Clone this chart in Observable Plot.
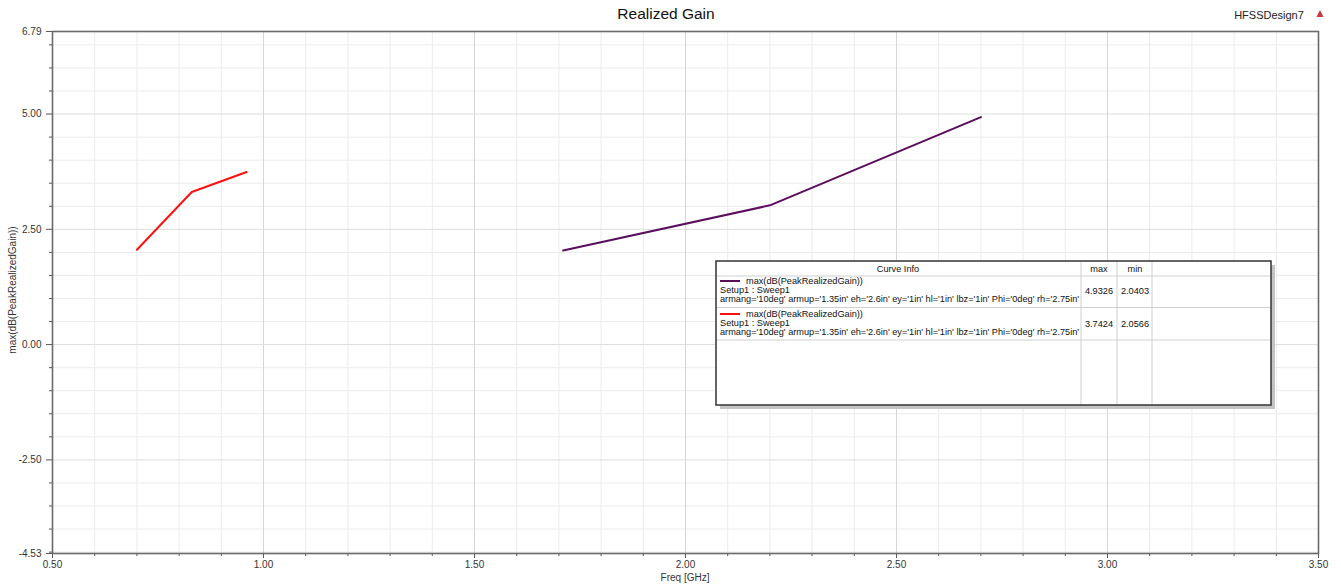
<!DOCTYPE html>
<html>
<head>
<meta charset="utf-8">
<script src="https://cdn.jsdelivr.net/npm/d3@7"></script>
<script src="https://cdn.jsdelivr.net/npm/@observablehq/plot@0.6"></script>
<style>
  html, body { margin: 0; padding: 0; background: #fff; }
  #wrap { position: relative; width: 1341px; height: 585px; overflow: hidden; font-family: Arial, "Liberation Sans", sans-serif; }
  .lbl { position: absolute; white-space: nowrap; color: #222; }
</style>
</head>
<body>
<div id="wrap"></div>
<script>
// ---- data ----
const freqRed = [0.70, 0.83, 0.96];
const gainRed = [2.0566, 3.31, 3.7424];
const freqPurple = [1.71, 2.20, 2.70];
const gainPurple = [2.0403, 3.02, 4.9326];

const xTickLabels = [0.5, 1.0, 1.5, 2.0, 2.5, 3.0, 3.5];
const yTickLabels = [6.79, 5.0, 2.5, 0.0, -2.5, -4.53];

const legendNames = ["max(dB(PeakRealizedGain))", "max(dB(PeakRealizedGain))"];
const legendSetup = ["Setup1 : Sweep1", "Setup1 : Sweep1"];
const legendVars = [
  "armang='10deg' armup='1.35in' eh='2.6in' ey='1in' hl='1in' lbz='1in' Phi='0deg' rh='2.75in'",
  "armang='10deg' armup='1.35in' eh='2.6in' ey='1in' hl='1in' lbz='1in' Phi='0deg' rh='2.75in'"
];
const legendMax = ["4.9326", "3.7424"];
const legendMin = ["2.0403", "2.0566"];
const seriesColors = ["#5a0e5e", "#ff1010"];

// ---- tables ----
const red = freqRed.map((f, i) => ({f, g: gainRed[i]}));
const purple = freqPurple.map((f, i) => ({f, g: gainPurple[i]}));

const xMinor = d3.range(6, 35).map(d => d / 10).filter(d => Math.abs(d * 2 - Math.round(d * 2)) > 1e-6);
const xMajorGrid = [1.0, 1.5, 2.0, 2.5, 3.0];
const yMinor = d3.range(-9, 14).map(d => d / 2).filter(d => Math.abs(d / 2.5 - Math.round(d / 2.5)) > 1e-6);
const yMajorGrid = [5.0, 2.5, 0.0, -2.5];

const chart = Plot.plot({
  width: 1341,
  height: 585,
  marginLeft: 52,
  marginRight: 23,
  marginTop: 31,
  marginBottom: 32,
  style: {fontFamily: "Arial, 'Liberation Sans', sans-serif", fontSize: "10px", color: "#333", background: "#fff"},
  x: {domain: [0.5, 3.5]},
  y: {domain: [-4.53, 6.79]},
  marks: [
    Plot.ruleX(xMinor, {stroke: "#ebebeb", strokeWidth: 1}),
    Plot.ruleY(yMinor, {stroke: "#ebebeb", strokeWidth: 1}),
    Plot.ruleX(xMajorGrid, {stroke: "#d6d6d6", strokeWidth: 1}),
    Plot.ruleY(yMajorGrid, {stroke: "#dddddd", strokeWidth: 1}),
    Plot.axisY(yMinor, {tickSize: 3, tickFormat: () => "", stroke: "#555", label: null}),
    Plot.axisY(yTickLabels, {tickSize: 6, tickPadding: 5, tickFormat: d => d.toFixed(2), stroke: "#555", fill: "#333", label: null}),
    Plot.axisX(xMinor, {tickSize: 3, tickFormat: () => "", stroke: "#555", label: null}),
    Plot.axisX(xTickLabels, {tickSize: 5, tickPadding: 2, tickFormat: d => d.toFixed(2), stroke: "#555", fill: "#333", label: null}),
    Plot.frame({stroke: "#6a6a6a", strokeWidth: 1.6}),
    Plot.line(purple, {x: "f", y: "g", stroke: seriesColors[0], strokeWidth: 2}),
    Plot.line(red, {x: "f", y: "g", stroke: seriesColors[1], strokeWidth: 2})
  ]
});

const wrap = document.getElementById("wrap");
chart.style.position = "absolute";
chart.style.left = "0px";
chart.style.top = "0px";
wrap.appendChild(chart);

function addLabel(text, x, y, opts = {}) {
  const d = document.createElement("div");
  d.className = "lbl";
  d.textContent = text;
  d.style.left = x + "px";
  d.style.top = y + "px";
  d.style.fontSize = (opts.size || 10) + "px";
  if (opts.color) d.style.color = opts.color;
  d.style.transform = opts.transform || "translate(-50%, -50%)";
  wrap.appendChild(d);
  return d;
}
addLabel("Realized Gain", 666, 14, {size: 15.5, color: "#111"});
addLabel("HFSSDesign7", 1269, 15, {size: 11, color: "#222"});
addLabel("Freq [GHz]", 685, 577, {size: 10, color: "#333"});
addLabel("max(dB(PeakRealizedGain))", 12, 290, {size: 10, color: "#333", transform: "translate(-50%, -50%) rotate(-90deg)"});

// small red triangle icon
const ov = d3.select(wrap).append("svg")
  .attr("width", 1341).attr("height", 585)
  .style("position", "absolute").style("left", "0px").style("top", "0px")
  .style("font-family", "Arial, 'Liberation Sans', sans-serif");
ov.append("path").attr("d", "M1320,10 L1323.5,17 L1316.5,17 Z").attr("fill", "#c83a3a");

// legend
const L = {x: 716, y: 261, w: 555, h: 144};
ov.append("rect").attr("x", L.x + 4).attr("y", L.y + 4).attr("width", L.w).attr("height", L.h).attr("fill", "#c4c4c4");
ov.append("rect").attr("x", L.x).attr("y", L.y).attr("width", L.w).attr("height", L.h).attr("fill", "#fff");
[276, 307.5, 340].forEach(y => ov.append("line").attr("x1", L.x).attr("x2", L.x + L.w).attr("y1", y).attr("y2", y).attr("stroke", "#cfcfcf"));
[1081, 1117, 1152].forEach(x => ov.append("line").attr("x1", x).attr("x2", x).attr("y1", L.y).attr("y2", L.y + L.h).attr("stroke", "#cfcfcf"));
ov.append("rect").attr("x", L.x).attr("y", L.y).attr("width", L.w).attr("height", L.h).attr("fill", "none").attr("stroke", "#333").attr("stroke-width", 1.5);

function t(text, x, y, anchor = "start") {
  ov.append("text").attr("x", x).attr("y", y).attr("dy", "0.35em").attr("text-anchor", anchor)
    .attr("font-size", 9.2).attr("fill", "#111").text(text);
}
t("Curve Info", 898, 268.5, "middle");
t("max", 1099, 268.5, "middle");
t("min", 1135, 268.5, "middle");
const rowTop = [281, 314];
rowTop.forEach((y, i) => {
  ov.append("line").attr("x1", 720).attr("x2", 740).attr("y1", y).attr("y2", y).attr("stroke", seriesColors[i]).attr("stroke-width", 2);
  t(legendNames[i], 746, y);
  t(legendSetup[i], 720, y + 9);
  t(legendVars[i], 720, y + 17.5);
  t(legendMax[i], 1099, y + 10, "middle");
  t(legendMin[i], 1135, y + 10, "middle");
});
</script>
</body>
</html>
